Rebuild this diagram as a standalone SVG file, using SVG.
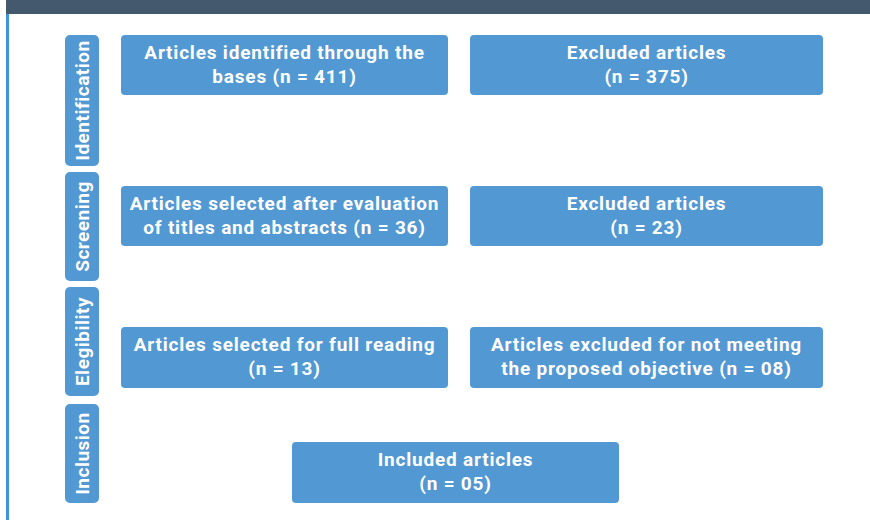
<svg xmlns="http://www.w3.org/2000/svg" width="870" height="520" viewBox="0 0 870 520">
<style>
.box{fill:#5298d3;}
.t{font-family:Roboto,"Liberation Sans",sans-serif;font-weight:bold;font-size:19px;letter-spacing:0.8px;fill:#ffffff;text-anchor:middle;}
.s{font-family:Roboto,"Liberation Sans",sans-serif;font-weight:bold;font-size:19px;letter-spacing:0.5px;fill:#ffffff;text-anchor:middle;}
</style>
<rect x="0" y="0" width="870" height="520" fill="#ffffff"/>
<rect x="6" y="0" width="864" height="14" fill="#45596e"/>
<rect x="6" y="14" width="3" height="506" fill="#3b95d6"/>
<g id="stage-identification">
<rect class="box" x="65" y="35" width="34" height="131" rx="5"/>
<text class="s" transform="translate(89,100.5) rotate(-90)">Identification</text>
</g>
<g id="stage-screening">
<rect class="box" x="65" y="172" width="34" height="109" rx="5"/>
<text class="s" transform="translate(89,226.5) rotate(-90)">Screening</text>
</g>
<g id="stage-elegibility">
<rect class="box" x="65" y="287" width="34" height="109" rx="5"/>
<text class="s" transform="translate(89,341.5) rotate(-90)">Elegibility</text>
</g>
<g id="stage-inclusion">
<rect class="box" x="65" y="404" width="34" height="99" rx="5"/>
<text class="s" transform="translate(89,453.5) rotate(-90)">Inclusion</text>
</g>
<g id="identified">
<rect class="box" x="121" y="35" width="327" height="60" rx="4"/>
<text class="t" x="284.5" y="59">Articles identified through the</text>
<text class="t" x="284.5" y="83">bases (n = 411)</text>
</g>
<g id="excluded-1">
<rect class="box" x="470" y="35" width="353" height="60" rx="4"/>
<text class="t" x="646.5" y="59">Excluded articles</text>
<text class="t" x="646.5" y="83">(n = 375)</text>
</g>
<g id="screened">
<rect class="box" x="121" y="186" width="327" height="60" rx="4"/>
<text class="t" x="284.5" y="210">Articles selected after evaluation</text>
<text class="t" x="284.5" y="234">of titles and abstracts (n = 36)</text>
</g>
<g id="excluded-2">
<rect class="box" x="470" y="186" width="353" height="60" rx="4"/>
<text class="t" x="646.5" y="210">Excluded articles</text>
<text class="t" x="646.5" y="234">(n = 23)</text>
</g>
<g id="full-reading">
<rect class="box" x="121" y="327" width="327" height="61" rx="4"/>
<text class="t" x="284.5" y="351">Articles selected for full reading</text>
<text class="t" x="284.5" y="375">(n = 13)</text>
</g>
<g id="excluded-3">
<rect class="box" x="470" y="327" width="353" height="61" rx="4"/>
<text class="t" x="646.5" y="351">Articles excluded for not meeting</text>
<text class="t" x="646.5" y="375">the proposed objective (n = 08)</text>
</g>
<g id="included">
<rect class="box" x="292" y="442" width="327" height="61" rx="4"/>
<text class="t" x="455.5" y="466">Included articles</text>
<text class="t" x="455.5" y="490">(n = 05)</text>
</g>
<g id="connectors"></g>
</svg>
